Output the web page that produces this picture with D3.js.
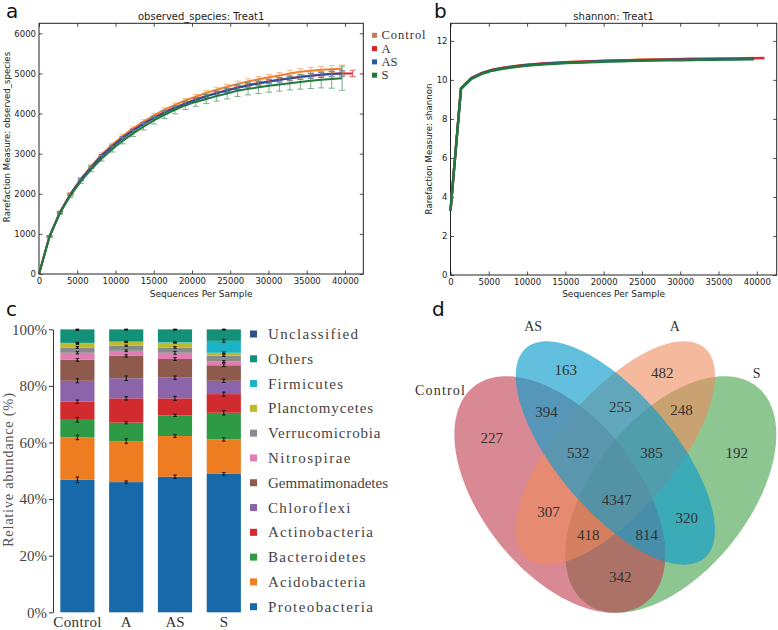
<!DOCTYPE html>
<html><head><meta charset="utf-8">
<script src="https://cdn.jsdelivr.net/npm/d3@7"></script>
<style>body{margin:0;background:#fff} svg{display:block}</style>
</head><body>
<svg id="fig" width="778" height="630"></svg>
<script>
// ---------------- DATA ----------------
const groups = ["Control", "A", "AS", "S"];
const seqDepth = [0,1367,2733,4100,5467,6833,8200,9567,10933,12300,13667,15033,16400,17767,19133,20500,21867,23233,24600,25967,27333,28700,30067,31433,32800,34167,35533,36900,38267,39633];
const seqDepthA = [0,1367,2733,4100,5467,6833,8200,9567,10933,12300,13667,15033,16400,17767,19133,20500,21867,23233,24600,25967,27333,28700,30067,31433,32800,34167,35533,36900,38267,39633,41000];

const obsControl = [0,940,1545,2000,2375,2690,2985,3220,3440,3630,3800,3955,4095,4215,4325,4420,4515,4595,4670,4740,4800,4855,4905,4950,5000,5040,5070,5090,5105,5115];
const obsA = [0,935,1535,1985,2355,2665,2955,3185,3400,3585,3750,3900,4035,4150,4255,4350,4440,4515,4585,4650,4710,4760,4805,4845,4880,4915,4945,4970,4990,5000,5000];
const obsAS = [0,935,1535,1980,2350,2660,2945,3175,3390,3575,3740,3890,4025,4140,4245,4340,4430,4505,4575,4640,4700,4750,4795,4840,4875,4910,4940,4965,4985,5000];
const obsS = [0,925,1515,1950,2310,2610,2880,3110,3320,3505,3675,3830,3970,4095,4205,4290,4364,4435,4500,4571,4615,4655,4692,4725,4758,4788,4815,4840,4862,4880];

const sdControl = [0,20,25,30,30,35,35,40,40,40,45,45,45,50,50,55,55,60,60,65,65,70,70,75,75,80,80,85,90,95];
const sdA = [0,15,20,20,25,25,25,30,30,30,30,35,35,35,35,40,40,40,40,45,45,45,50,50,50,55,55,55,60,60,80];
const sdAS = [0,15,20,25,25,30,30,30,35,35,35,40,40,40,45,45,45,50,50,50,55,55,55,60,60,60,65,65,70,70];
const sdS = [0,20,30,40,50,60,65,70,75,80,85,90,95,100,105,110,116,125,135,145,150,155,160,165,170,180,190,200,230,300];

const shControl = [3.3,9.57,10.1,10.36,10.52,10.62,10.7,10.76,10.81,10.85,10.88,10.91,10.93,10.95,10.97,10.99,11.0,11.01,11.03,11.04,11.05,11.06,11.07,11.08,11.08,11.09,11.1,11.1,11.11,11.12];
const shA = [3.3,9.56,10.09,10.35,10.51,10.61,10.69,10.75,10.8,10.84,10.87,10.9,10.92,10.94,10.96,10.98,10.99,11.0,11.02,11.03,11.04,11.05,11.06,11.07,11.07,11.08,11.09,11.09,11.1,11.11,11.12];
const shAS = [3.3,9.55,10.08,10.34,10.5,10.6,10.68,10.74,10.79,10.83,10.86,10.88,10.9,10.92,10.94,10.96,10.97,10.98,11.0,11.01,11.02,11.03,11.04,11.04,11.05,11.06,11.06,11.07,11.07,11.08];
const shS = [3.3,9.53,10.05,10.31,10.47,10.57,10.65,10.71,10.76,10.8,10.83,10.86,10.88,10.9,10.92,10.94,10.95,10.96,10.98,10.99,11.0,11.01,11.01,11.02,11.03,11.03,11.04,11.04,11.05,11.05];

const depthTicks = [0,5000,10000,15000,20000,25000,30000,35000,40000];
const obsTicks = [0,1000,2000,3000,4000,5000,6000];
const shTicks = [0,2,4,6,8,10,12];

const phyla = ["Proteobacteria","Acidobacteria","Bacteroidetes","Actinobacteria","Chloroflexi","Gemmatimonadetes","Nitrospirae","Verrucomicrobia","Planctomycetes","Firmicutes","Others","Unclassified"];
const abundControl = [46.8,15.0,6.2,6.4,7.4,7.4,2.5,1.9,1.4,0.2,4.7,0.1];
const abundA = [46.0,14.5,6.5,8.6,7.1,7.9,1.8,1.8,1.3,0.2,4.2,0.1];
const abundAS = [47.9,14.4,7.3,6.0,7.3,6.6,2.2,1.9,1.7,0.2,4.4,0.1];
const abundS = [48.9,12.2,9.4,6.6,4.7,5.5,1.3,2.1,1.0,4.2,4.0,0.1];
const errControl = [1.0,0.8,0.8,0.6,0.7,0.5,0.4,0.3,0.3,0.2,0.3,0.05];
const errA = [0.4,0.8,0.4,0.6,0.8,0.4,0.3,0.2,0.2,0.1,0.2,0.05];
const errAS = [0.6,0.5,0.4,0.7,0.6,0.5,0.5,0.3,0.2,0.1,0.2,0.05];
const errS = [0.5,0.6,0.8,0.7,0.6,0.5,0.3,0.3,0.3,0.5,0.2,0.05];
const pctTicks = [0,20,40,60,80,100];

const vennSets = ["Control","AS","A","S"];
const vennRegions = ["Control","AS","A","S","Control&AS","AS&A","A&S","Control&S","Control&A","AS&S","Control&AS&A","AS&A&S","Control&A&S","Control&AS&S","Control&AS&A&S"];
const vennCounts = [227,163,482,192,394,255,248,342,307,320,532,385,418,814,4347];

// ---------------- STYLE / LAYOUT ----------------
const lineColor = {Control:"#f07f2c", A:"#e3242b", AS:"#2c4f9e", S:"#1f7a3c"};
const errColor  = {Control:"#f3ae7c", A:"#e04848", AS:"#6f82b8", S:"#62a276"};
const legColor  = {Control:"#c27a60", A:"#d9232b", AS:"#2d579c", S:"#1e7a3c"};
const phylaColor = ["#1769aa","#ee7d22","#2f9a45","#d12a2f","#8b64a9","#8e5a4b","#e07db4","#8a8a8a","#bcbc2b","#1cb3c7","#139178","#2c5289"];
const vennStyle = {
  Control:{cx:0.35, cy:0.47, a:0.35, b:0.20, rot:135, fill:"#c03a4c", op:0.6},
  AS:{cx:0.50, cy:0.57, a:0.35, b:0.15, rot:135, fill:"#0f9ccc", op:0.65},
  A:{cx:0.50, cy:0.57, a:0.35, b:0.15, rot:45, fill:"#ee8a5c", op:0.6},
  S:{cx:0.65, cy:0.47, a:0.35, b:0.20, rot:45, fill:"#3d9c42", op:0.58}
};
const vennDrawOrder = ["S","Control","A","AS"];
const vennSetLabelPos = {Control:[0.026,0.722], AS:[0.278,0.877], A:[0.661,0.877], S:[0.882,0.762]};
const vennRegionPos = {
  "Control":[0.166,0.605], "AS":[0.366,0.770], "A":[0.627,0.762], "S":[0.828,0.571],
  "Control&AS":[0.314,0.670], "AS&A":[0.513,0.682], "A&S":[0.679,0.674], "Control&S":[0.513,0.272],
  "Control&A":[0.319,0.429], "AS&S":[0.693,0.413], "Control&AS&A":[0.400,0.571], "AS&A&S":[0.598,0.571],
  "Control&A&S":[0.427,0.372], "Control&AS&S":[0.585,0.372], "Control&AS&A&S":[0.504,0.457]
};

const svg = d3.select("#fig");
svg.append("rect").attr("width",778).attr("height",630).attr("fill","#fff");
const SANS = "DejaVu Sans";
const SERIF = "Liberation Serif";
// widen text to a per-character advance (mimics the half-width CJK font), never narrow it
function fitText(sel, cw){
  sel.each(function(){
    const target = this.textContent.length * cw;
    const nat = this.getComputedTextLength();
    if (target > nat + 0.5) d3.select(this).attr("textLength", target).attr("lengthAdjust","spacing");
  });
}

// ---------------- RAREFACTION PANELS ----------------
function rarePanel(opt){
  const g = svg.append("g");
  const x = d3.scaleLinear([0, opt.xmax], [opt.l, opt.r]);
  const y = d3.scaleLinear([0, opt.ymax], [opt.b, opt.t]);
  const styleAxis = a => {
    a.select(".domain").remove();
    a.selectAll("line").attr("stroke","#222").attr("stroke-width",0.8);
    a.selectAll("text").attr("font-family",SANS).attr("font-size",8.5).attr("fill","#222");
  };
  g.append("g").attr("transform",`translate(0,${opt.b})`)
    .call(d3.axisBottom(x).tickValues(depthTicks).tickFormat(d3.format("d")).tickSize(-3.5).tickPadding(4)).call(styleAxis);
  g.append("g").attr("transform",`translate(0,${opt.t})`)
    .call(d3.axisTop(x).tickValues(depthTicks).tickFormat("").tickSize(-3.5)).call(styleAxis);
  g.append("g").attr("transform",`translate(${opt.l},0)`)
    .call(d3.axisLeft(y).tickValues(opt.yticks).tickFormat(d3.format("d")).tickSize(-3.5).tickPadding(3)).call(styleAxis);
  g.append("g").attr("transform",`translate(${opt.r},0)`)
    .call(d3.axisRight(y).tickValues(opt.yticks).tickFormat("").tickSize(-3.5)).call(styleAxis);
  g.append("rect").attr("x",opt.l).attr("y",opt.t).attr("width",opt.r-opt.l).attr("height",opt.b-opt.t)
    .attr("fill","none").attr("stroke","#222").attr("stroke-width",1);

  const line = d3.line().x(d=>x(d[0])).y(d=>y(d[1]));
  opt.series.forEach(s=>{
    const pts = s.vals.map((v,i)=>[s.depth[i], v, s.sd ? s.sd[i] : 0]);
    if (s.sd){
      const eb = g.append("g").attr("stroke",errColor[s.name]).attr("stroke-width",1).attr("opacity",0.85);
      pts.forEach(p=>{
        if (p[2] <= 0) return;
        const xx = x(p[0]), y1 = y(p[1]-p[2]), y2 = y(p[1]+p[2]);
        eb.append("line").attr("x1",xx).attr("x2",xx).attr("y1",y1).attr("y2",y2);
        eb.append("line").attr("x1",xx-3).attr("x2",xx+3).attr("y1",y1).attr("y2",y1);
        eb.append("line").attr("x1",xx-3).attr("x2",xx+3).attr("y1",y2).attr("y2",y2);
      });
    }
    g.append("path").attr("d",line(pts)).attr("fill","none")
      .attr("stroke",lineColor[s.name]).attr("stroke-width",opt.lw).attr("stroke-linejoin","round");
  });

  g.append("text").attr("x",(opt.l+opt.r)/2).attr("y",19.5).attr("text-anchor","middle")
    .attr("font-family",SANS).attr("font-size",10).attr("fill","#222").text(opt.title);
  g.append("text").attr("x",(opt.l+opt.r)/2).attr("y",297).attr("text-anchor","middle")
    .attr("font-family",SANS).attr("font-size",9).attr("fill","#222").text("Sequences Per Sample");
  g.append("text").attr("transform",`translate(${opt.ylx},${opt.ylc}) rotate(-90)`)
    .attr("text-anchor","middle").attr("font-family",SANS).attr("font-size",8.6).attr("fill","#222").text(opt.ylab);
  g.append("text").attr("x",opt.plx).attr("y",17.5).attr("font-family",SANS).attr("font-size",20).attr("fill","#111").text(opt.panel);
  return {x,y};
}

rarePanel({l:39, r:363.3, t:23.3, b:274, xmax:42400, ymax:6250, yticks:obsTicks, lw:2,
  title:"observed_species: Treat1", ylab:"Rarefaction Measure: observed_species", ylx:10, ylc:137, panel:"a", plx:6,
  series:[
    {name:"Control", depth:seqDepth, vals:obsControl, sd:sdControl},
    {name:"A", depth:seqDepthA, vals:obsA, sd:sdA},
    {name:"AS", depth:seqDepth, vals:obsAS, sd:sdAS},
    {name:"S", depth:seqDepth, vals:obsS, sd:sdS}
  ]});
rarePanel({l:450.5, r:776.7, t:23.3, b:275, xmax:42600, ymax:12.9, yticks:shTicks, lw:2.4,
  title:"shannon: Treat1", ylab:"Rarefaction Measure: shannon", ylx:432, ylc:149, panel:"b", plx:434,
  series:[
    {name:"Control", depth:seqDepth, vals:shControl},
    {name:"A", depth:seqDepthA, vals:shA},
    {name:"AS", depth:seqDepth, vals:shAS},
    {name:"S", depth:seqDepth, vals:shS}
  ]});

// legend for panel a
const legA = svg.append("g");
groups.forEach((gname,i)=>{
  const yy = 35.3 + i*13.3;
  legA.append("rect").attr("x",372).attr("y",yy-2.5).attr("width",5).attr("height",5).attr("fill",legColor[gname]);
  legA.append("text").attr("x",381.5).attr("y",yy+4).attr("font-family",SERIF).attr("font-size",12.5)
    .attr("fill","#333").text(gname).call(fitText,6.3);
});

// ---------------- STACKED BARS (c) ----------------
const abund = {Control:abundControl, A:abundA, AS:abundAS, S:abundS};
const errs = {Control:errControl, A:errA, AS:errAS, S:errS};
const rows = groups.map(gname=>{
  const r = {group:gname};
  phyla.forEach((p,i)=>r[p]=abund[gname][i]);
  return r;
});
const stacked = d3.stack().keys(phyla)(rows);
const xc = d3.scaleBand(groups,[53,248.2]).paddingInner(0.3).paddingOuter(0.15);
const yc = d3.scaleLinear([0,100],[612.3,329.3]);
const gc = svg.append("g");
stacked.forEach((layer,li)=>{
  gc.append("g").attr("fill",phylaColor[li]).selectAll("rect").data(layer).join("rect")
    .attr("x",d=>xc(d.data.group)).attr("width",xc.bandwidth())
    .attr("y",d=>yc(d[1])).attr("height",d=>yc(d[0])-yc(d[1]));
});
const ebc = gc.append("g").attr("stroke","#111").attr("stroke-width",1);
stacked.forEach((layer,li)=>{
  layer.forEach(d=>{
    const e = errs[d.data.group][li];
    const cx = xc(d.data.group)+xc.bandwidth()/2;
    const y1 = yc(Math.min(100,d[1]+e)), y2 = yc(d[1]-e);
    ebc.append("line").attr("x1",cx).attr("x2",cx).attr("y1",y1).attr("y2",y2);
    ebc.append("line").attr("x1",cx-1.7).attr("x2",cx+1.7).attr("y1",y1).attr("y2",y1);
    ebc.append("line").attr("x1",cx-1.7).attr("x2",cx+1.7).attr("y1",y2).attr("y2",y2);
  });
});
const axc = gc.append("g").attr("transform","translate(53,0)")
  .call(d3.axisLeft(yc).tickValues(pctTicks).tickFormat(d=>d+"%").tickSize(4).tickSizeOuter(0).tickPadding(2));
axc.selectAll("path,line").attr("stroke","#333");
axc.selectAll("text").attr("font-family",SERIF).attr("font-size",15).attr("fill","#444").call(fitText,7.4);
const axcx = gc.append("g").attr("transform","translate(0,612.3)")
  .call(d3.axisBottom(xc).tickSize(0).tickPadding(4));
axcx.select(".domain").remove();
axcx.selectAll("text").attr("font-family",SERIF).attr("font-size",15).attr("fill","#333").call(fitText,6.9);
gc.append("text").attr("transform","translate(13,470) rotate(-90)").attr("text-anchor","middle")
  .attr("font-family",SERIF).attr("font-size",14.5).attr("fill","#555").text("Relative abundance (%)").call(fitText,7.0);
gc.append("text").attr("x",6).attr("y",316).attr("font-family",SANS).attr("font-size",20).attr("fill","#111").text("c");
// legend c (top row = top layer)
const legOrder = phyla.slice().reverse();
legOrder.forEach((p,i)=>{
  const yy = 334 + i*24.79;
  const ci = phyla.indexOf(p);
  gc.append("rect").attr("x",250).attr("y",yy-3.5).attr("width",7).attr("height",7).attr("fill",phylaColor[ci]);
  gc.append("text").attr("x",268).attr("y",yy+5).attr("font-family",SERIF).attr("font-size",15)
    .attr("fill","#444").text(p).call(fitText,7.5);
});

// ---------------- VENN (d) ----------------
const vx = d3.scaleLinear([0,1],[430.35,800.35]);
const vy = d3.scaleLinear([0,1],[689.55,274.55]);
const gd = svg.append("g");
const ellLine = d3.line().x(d=>vx(d[0])).y(d=>vy(d[1])).curve(d3.curveLinearClosed);
vennDrawOrder.forEach(s=>{
  const e = vennStyle[s];
  const th = e.rot*Math.PI/180;
  const pts = d3.range(0,360,2).map(deg=>{
    const t = deg*Math.PI/180;
    return [e.cx + e.a*Math.cos(t)*Math.cos(th) - e.b*Math.sin(t)*Math.sin(th),
            e.cy + e.a*Math.cos(t)*Math.sin(th) + e.b*Math.sin(t)*Math.cos(th)];
  });
  gd.append("path").attr("d",ellLine(pts)).attr("fill",e.fill).attr("fill-opacity",e.op);
});
vennRegions.forEach((r,i)=>{
  const p = vennRegionPos[r];
  gd.append("text").attr("x",vx(p[0])).attr("y",vy(p[1])+5).attr("text-anchor","middle")
    .attr("font-family",SERIF).attr("font-size",15).attr("fill","#333").text(vennCounts[i]).call(fitText,7.5);
});
vennSets.forEach(s=>{
  const p = vennSetLabelPos[s];
  gd.append("text").attr("x",vx(p[0])).attr("y",vy(p[1])+5).attr("text-anchor","middle")
    .attr("font-family",SERIF).attr("font-size",14).attr("fill","#333").text(s).call(fitText,7.1);
});
gd.append("text").attr("x",432).attr("y",316).attr("font-family",SANS).attr("font-size",20).attr("fill","#111").text("d");
</script>
</body></html>
